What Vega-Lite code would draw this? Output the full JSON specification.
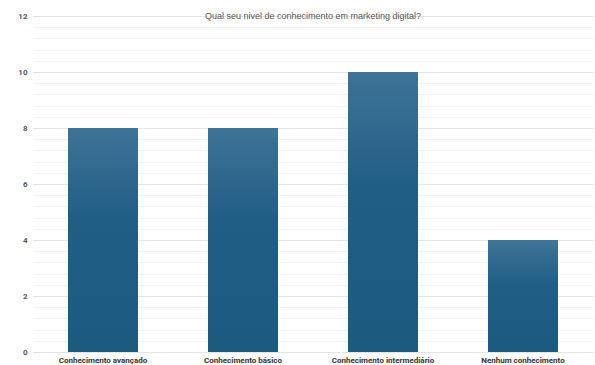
{
  "$schema": "https://vega.github.io/schema/vega-lite/v6.json",
  "width": 560,
  "height": 336,
  "autosize": {"type": "none"},
  "padding": {"left": 33, "top": 16, "right": 2, "bottom": 13},
  "background": "white",
  "title": {
    "text": "Qual seu nivel de conhecimento em marketing digital?",
    "fontSize": 9,
    "font": "Liberation Sans",
    "fontWeight": "normal",
    "color": "#555555",
    "anchor": "middle",
    "baseline": "middle",
    "offset": -13
  },
  "data": {
    "values": [
      {"nivel": "Conhecimento avançado", "count": 8},
      {"nivel": "Conhecimento básico", "count": 8},
      {"nivel": "Conhecimento intermediário", "count": 10},
      {"nivel": "Nenhum conhecimento", "count": 4}
    ]
  },
  "mark": {
    "type": "bar",
    "color": {
      "gradient": "linear",
      "x1": 0, "y1": 0, "x2": 0, "y2": 1,
      "stops": [
        {"offset": 0, "color": "#3f7398"},
        {"offset": 0.4, "color": "#215e86"},
        {"offset": 1, "color": "#1d5a80"}
      ]
    }
  },
  "encoding": {
    "x": {
      "field": "nivel",
      "type": "nominal",
      "sort": null,
      "scale": {"paddingInner": 0.5, "paddingOuter": 0.25},
      "axis": {
        "title": null,
        "labelAngle": 0,
        "labelFont": "Roboto",
        "labelFontSize": 8,
        "labelFontWeight": "bold",
        "labelColor": "#333333",
        "labelPadding": 4,
        "domain": false,
        "ticks": false
      }
    },
    "y": {
      "field": "count",
      "type": "quantitative",
      "scale": {"domain": [0, 12], "nice": false},
      "axis": {
        "title": null,
        "values": [0,0.4,0.8,1.2,1.6,2,2.4,2.8,3.2,3.6,4,4.4,4.8,5.2,5.6,6,6.4,6.8,7.2,7.6,8,8.4,8.8,9.2,9.6,10,10.4,10.8,11.2,11.6,12],
        "labelExpr": "datum.value % 2 === 0 ? format(datum.value, 'd') : ''",
        "labelFont": "Roboto",
        "labelFontSize": 8,
        "labelFontWeight": "bold",
        "labelColor": "#555555",
        "labelPadding": 6,
        "domain": false,
        "ticks": false,
        "grid": true,
        "gridColor": {"condition": {"test": "datum.value % 2 === 0", "value": "#e4e4e4"}, "value": "#f3f3f3"},
        "gridWidth": 1
      }
    }
  },
  "config": {
    "view": {"stroke": null}
  }
}
